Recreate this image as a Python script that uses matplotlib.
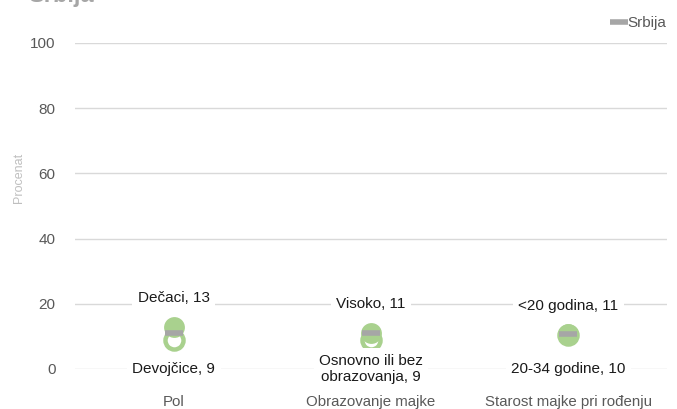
import matplotlib.pyplot as plt

plt.rcParams['font.family'] = ['Liberation Sans', 'DejaVu Sans']

categories = ['Pol', 'Obrazovanje majke', 'Starost majke pri rođenju']
high_labels = ['Dečaci', 'Visoko', '<20 godina']
high_values = [13, 11, 10.6]
low_labels = ['Devojčice', 'Osnovno ili bez\nobrazovanja', '20-34 godine']
low_values = [9, 9, 10.3]
srbija = [11, 11, 10.8]
yticks = [0, 20, 40, 60, 80, 100]

green = '#a9d18e'
grid_c = '#d9d9d9'
tick_c = '#595959'

fig = plt.figure(figsize=(6.77, 4.09), dpi=100)
ax = fig.add_axes([0.111, 0.098, 0.874, 0.797])
x = list(range(len(categories)))

# hollow (low) first, filled (high) on top, national bar last
ax.plot(x, low_values, 'o', ls='none', ms=13, mfc='white', mec=green, mew=3.2, zorder=3)
ax.plot(x, high_values, 'o', ls='none', ms=15, mfc=green, mec='none', zorder=4)
ax.plot(x, srbija, '_', ls='none', ms=13, mew=4, color='#a6a6a6', zorder=5, label='Srbija')

bbox = dict(boxstyle='square,pad=0.35', fc='white', ec='none')
for i in x:
    ax.text(i, high_values[i] + 8.8, '%s, %.0f' % (high_labels[i], high_values[i]),
            ha='center', va='center', fontsize=11, color='#1a1a1a', bbox=bbox, zorder=6)
    ax.text(i, 0, '%s, %.0f' % (low_labels[i], low_values[i]),
            ha='center', va='center', fontsize=11, color='#1a1a1a', bbox=bbox, zorder=6,
            clip_on=False, linespacing=1.2)

ax.set_xlim(-0.5, 2.5)
ax.set_ylim(0, 100)
ax.set_yticks(yticks)
ax.set_xticks(x)
ax.set_xticklabels(categories, fontsize=10.8, color=tick_c)
ax.tick_params(axis='y', labelsize=11, labelcolor=tick_c, length=0, pad=14)
ax.tick_params(axis='x', length=0, pad=19)
ax.grid(axis='y', color=grid_c, lw=1, zorder=0)
ax.set_axisbelow(True)
for s in ax.spines.values():
    s.set_visible(False)
ax.set_ylabel('Procenat', fontsize=9, color='#bfbfbf')
ax.yaxis.set_label_coords(-0.085, 0.586)

leg = ax.legend(loc='lower right', bbox_to_anchor=(1.01, 1.02), frameon=False,
                fontsize=11, handlelength=0.6, handletextpad=0.3, borderaxespad=0)
for t in leg.get_texts():
    t.set_color(tick_c)

fig.text(28 / 677, 1 - 2 / 409, 'Srbija', fontsize=17, fontweight='bold', color='#a6a6a6',
         ha='left', va='baseline')

fig.savefig('out.png', dpi=100)
